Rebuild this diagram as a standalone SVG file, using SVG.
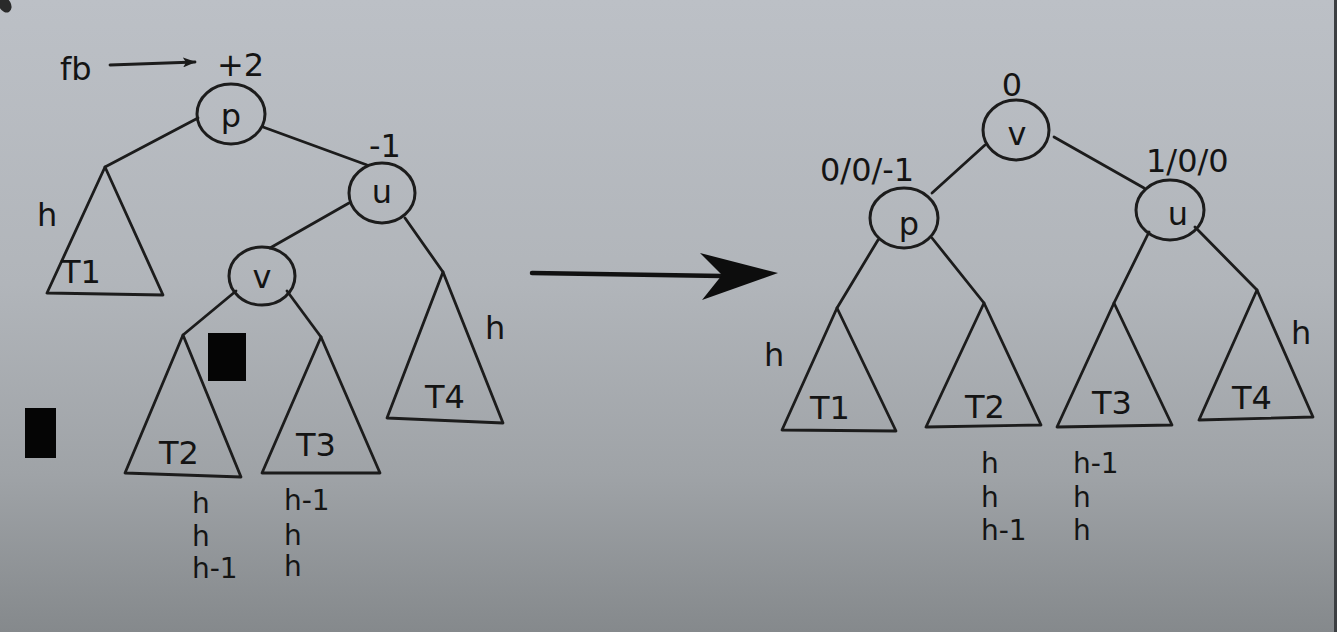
<svg xmlns="http://www.w3.org/2000/svg" width="1337" height="632" viewBox="0 0 1337 632">
<defs>
<linearGradient id="bg" x1="0" y1="0" x2="0" y2="1">
<stop offset="0" stop-color="#bcc0c6"/>
<stop offset="0.45" stop-color="#b1b5ba"/>
<stop offset="0.75" stop-color="#9fa3a7"/>
<stop offset="1" stop-color="#85898c"/>
</linearGradient>
<marker id="ah" markerWidth="13" markerHeight="10" refX="12" refY="5" orient="auto" markerUnits="userSpaceOnUse">
<path d="M0,0 L13,5 L0,10 L3,5 Z" fill="#1a1a1a"/>
</marker>
</defs>
<style>
.ln{stroke:#1c1c1c;stroke-width:2.8;fill:none;stroke-linecap:round;stroke-linejoin:round}
.nd{stroke:#1c1c1c;stroke-width:3;fill:none}
.tx{font-family:"DejaVu Sans","Liberation Sans",sans-serif;font-size:32px;fill:#141414}
.st{font-size:28px}
.m{text-anchor:middle}
</style>
<rect x="0" y="0" width="1337" height="632" fill="url(#bg)"/>
<rect x="1334" y="0" width="3" height="632" fill="#3c3f42"/>
<ellipse cx="5" cy="5" rx="6" ry="8" transform="rotate(-30 5 5)" fill="#2a2a2a"/>
<rect x="208" y="333" width="38" height="48" fill="#050505"/>
<rect x="25" y="408" width="31" height="50" fill="#050505"/>

<g id="connectors">
<line class="ln" x1="110" y1="65" x2="195" y2="62" marker-end="url(#ah)"/>
<line class="ln" x1="198" y1="118" x2="105" y2="167"/>
<line class="ln" x1="263" y1="127" x2="367" y2="165"/>
<line class="ln" x1="349" y1="203" x2="270" y2="248"/>
<line class="ln" x1="405" y1="218" x2="443" y2="272"/>
<line class="ln" x1="236" y1="291" x2="183" y2="335"/>
<line class="ln" x1="287" y1="291" x2="321" y2="337"/>
<line stroke="#111" stroke-width="4.5" stroke-linecap="round" x1="532" y1="273" x2="722" y2="276"/>
<polygon points="778,273 700,253 722,275 702,300" fill="#0d0d0d"/>
<line class="ln" x1="985" y1="145" x2="932" y2="193"/>
<line class="ln" x1="1054" y1="137" x2="1144" y2="188"/>
<line class="ln" x1="878" y1="240" x2="837" y2="308"/>
<line class="ln" x1="932" y1="238" x2="984" y2="303"/>
<line class="ln" x1="1149" y1="232" x2="1114" y2="303"/>
<line class="ln" x1="1195" y1="227" x2="1257" y2="290"/>
</g>

<g id="fb-label"><text class="tx" x="60" y="80">fb</text><text class="tx" x="217" y="76">+2</text></g>

<g id="L-p"><ellipse class="nd" cx="231" cy="114" rx="34" ry="30"/><text class="tx m" x="231" y="127">p</text></g>
<g id="L-u"><ellipse class="nd" cx="382" cy="193" rx="33" ry="30"/><text class="tx m" x="382" y="203">u</text><text class="tx" x="369" y="157">-1</text></g>
<g id="L-v"><ellipse class="nd" cx="262" cy="276" rx="33" ry="29"/><text class="tx m" x="262" y="288">v</text></g>
<g id="L-T1"><polygon class="ln" points="105,167 47,293 163,295"/><text class="tx" x="61" y="283">T1</text><text class="tx" x="37" y="226">h</text></g>
<g id="L-T2"><polygon class="ln" points="183,335 125,473 241,477"/><text class="tx m" x="179" y="464">T2</text>
<text class="tx st" x="192" y="513">h</text><text class="tx st" x="192" y="546">h</text><text class="tx st" x="192" y="578">h-1</text></g>
<g id="L-T3"><polygon class="ln" points="321,337 262,473 380,473"/><text class="tx m" x="316" y="456">T3</text>
<text class="tx st" x="284" y="510">h-1</text><text class="tx st" x="284" y="545">h</text><text class="tx st" x="284" y="576">h</text></g>
<g id="L-T4"><polygon class="ln" points="443,272 387,418 503,423"/><text class="tx m" x="445" y="408">T4</text><text class="tx" x="485" y="339">h</text></g>

<g id="R-v"><ellipse class="nd" cx="1016" cy="130" rx="33" ry="30"/><text class="tx m" x="1017" y="145">v</text><text class="tx m" x="1012" y="96">0</text></g>
<g id="R-p"><ellipse class="nd" cx="904" cy="218" rx="34" ry="30"/><text class="tx m" x="909" y="235">p</text><text class="tx" x="820" y="181">0/0/-1</text></g>
<g id="R-u"><ellipse class="nd" cx="1170" cy="210" rx="34" ry="30"/><text class="tx m" x="1178" y="225">u</text><text class="tx" x="1146" y="172">1/0/0</text></g>
<g id="R-T1"><polygon class="ln" points="837,308 782,430 896,431"/><text class="tx m" x="830" y="419">T1</text><text class="tx" x="764" y="366">h</text></g>
<g id="R-T2"><polygon class="ln" points="984,303 926,427 1041,425"/><text class="tx m" x="985" y="418">T2</text>
<text class="tx st" x="981" y="473">h</text><text class="tx st" x="981" y="507">h</text><text class="tx st" x="981" y="540">h-1</text></g>
<g id="R-T3"><polygon class="ln" points="1114,303 1057,427 1172,425"/><text class="tx m" x="1112" y="414">T3</text>
<text class="tx st" x="1073" y="473">h-1</text><text class="tx st" x="1073" y="507">h</text><text class="tx st" x="1073" y="540">h</text></g>
<g id="R-T4"><polygon class="ln" points="1257,290 1199,420 1313,417"/><text class="tx m" x="1252" y="409">T4</text><text class="tx" x="1291" y="344">h</text></g>
</svg>
